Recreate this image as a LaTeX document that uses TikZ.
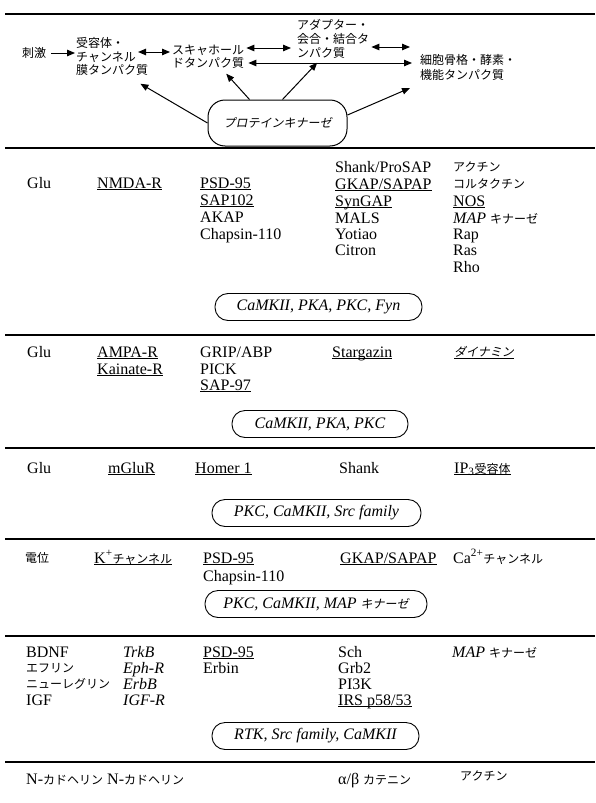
\documentclass[tikz,border=0pt]{standalone}
\usepackage{fontspec}
\setmainfont{Liberation Serif}
\newfontfamily\jpf{Noto Sans CJK JP}
\newfontfamily\jpslf[FakeSlant=0.2]{Noto Sans CJK JP}
\usetikzlibrary{arrows.meta}
\newcommand\latf{\fontsize{16}{17}\selectfont}
\newcommand\J[1]{{\jpf\fontsize{12}{13}\selectfont #1}}
\newcommand\JS[1]{{\jpslf\fontsize{12}{13}\selectfont #1}}
\newcommand\ul[1]{\underline{\smash{#1}}}
\tikzset{
  tx/.style={anchor=base west, inner sep=0pt, font=\latf},
  jt/.style={anchor=west, inner sep=0pt, font={\jpf\fontsize{12}{13}\selectfont}},
  kbox/.style={draw, line width=0.9pt, rounded corners=13pt, minimum height=27pt, inner sep=0pt, font=\latf\itshape},
  kbig/.style={draw, line width=1pt, rounded corners=17pt, minimum width=139pt, minimum height=46pt, inner sep=0pt},
  rulel/.style={line width=1.2pt},
  arr/.style={-{Triangle[length=8pt,width=6.5pt]}, line width=1pt},
  darr/.style={{Triangle[length=8pt,width=6.5pt]}-{Triangle[length=8pt,width=6.5pt]}, line width=1pt},
}
\begin{document}
\begin{tikzpicture}[x=1pt,y=-1pt]
\useasboundingbox (0,0) rectangle (595,803);
% horizontal rules
\draw[line width=1.6pt] (5,14) -- (595,14);
\draw[line width=1.4pt] (5,148) -- (595,148);
\draw[rulel] (5,335) -- (595,335);
\draw[rulel] (5,448) -- (595,448);
\draw[rulel] (5,539) -- (595,539);
\draw[rulel] (5,636) -- (595,636);
\draw[rulel] (5,762) -- (595,762);

% ---------- header ----------
\node[jt] (stim) at (22,53) {刺激};
\node[jt] (A1) at (76,43) {受容体・};
\node[jt] (A2) at (76,57) {チャンネル};
\node[jt] (A3) at (76,70) {膜タンパク質};
\node[jt] (B1) at (172,50) {スキャホール};
\node[jt] (B2) at (172,63) {ドタンパク質};
\node[jt] (C1) at (297,25) {アダプター・};
\node[jt] (C2) at (297,39) {会合・結合タ};
\node[jt] (C3) at (297,53) {ンパク質};
\node[jt] (D1) at (420,60) {細胞骨格・酵素・};
\node[jt] (D2) at (420,75) {機能タンパク質};
\node[kbig] (K) at (277.5,123) {\JS{プロテインキナーゼ}};

\coordinate (yab) at (0,52);
\coordinate (ybc) at (0,48);
\coordinate (ycd) at (0,47);
\coordinate (ybd) at (0,63);
\draw[arr, shorten >=1pt] ([xshift=5pt]stim.east) -- (A2.west |- stim.east);
\draw[darr] ([xshift=2pt]A2.east |- yab) -- ([xshift=-2pt]B1.west |- yab);
\draw[darr] ([xshift=2pt]B1.east |- ybc) -- ([xshift=-6pt]C2.west |- ybc);
\draw[darr] ([xshift=2pt]C2.east |- ycd) -- ([xshift=-10pt]D1.west |- ycd);
\draw[darr] ([xshift=4pt]B2.east |- ybd) -- ([xshift=-8pt]D1.west |- ybd);
\draw[arr] (K.west) -- ([xshift=-8pt,yshift=-8pt]A3.south east);
\draw[arr] ([xshift=-28pt]K.north) -- ([xshift=18pt,yshift=-5pt]B2.south);
\draw[arr] ([xshift=5pt]K.north) -- ([xshift=-4pt,yshift=-4pt]C3.south);
\draw[arr] ([yshift=8pt]K.east) -- ([xshift=-10pt,yshift=-13pt]D2.west);

% ---------- section 1 ----------
\node[tx] (g1) at (27,188) {Glu};
\node[tx] (r1) at (97,188) {\ul{NMDA-R}};
\node[tx] (p1a) at (200,188) {\ul{PSD-95}};
\node[tx] (p1b) at (200,205) {\ul{SAP102}};
\node[tx] (p1c) at (200,222) {AKAP};
\node[tx] (p1d) at (200,239) {Chapsin-110};
\node[tx] (q1a) at (335,172) {Shank/ProSAP};
\node[tx] (q1b) at (335,189) {\ul{GKAP/SAPAP}};
\node[tx] (q1c) at (335,206) {\ul{SynGAP}};
\node[tx] (q1d) at (335,223) {MALS};
\node[tx] (q1e) at (335,239) {Yotiao};
\node[tx] (q1f) at (335,255) {Citron};
\node[tx] (e1a) at (453,171.5) {\J{アクチン}};
\node[tx] (e1b) at (453,188.5) {\J{コルタクチン}};
\node[tx] (e1c) at (453,206) {\ul{NOS}};
\node[tx] (e1d) at (453,223) {\textit{MAP} \J{キナーゼ}};
\node[tx] (e1e) at (453,239) {Rap};
\node[tx] (e1f) at (453,255) {Ras};
\node[tx] (e1g) at (453,272) {Rho};
\node[kbox, minimum width=207pt] (k1) at (318.5,307) {CaMKII, PKA, PKC, Fyn};

% ---------- section 2 ----------
\node[tx] (g2) at (27,357) {Glu};
\node[tx] (r2a) at (97,357) {\ul{AMPA-R}};
\node[tx] (r2b) at (97,374) {\ul{Kainate-R}};
\node[tx] (p2a) at (200,357) {GRIP/ABP};
\node[tx] (p2b) at (200,374) {PICK};
\node[tx] (p2c) at (200,390) {\ul{SAP-97}};
\node[tx] (q2a) at (332,357) {\ul{Stargazin}};
\node[tx] (e2a) at (454,356.5) {\ul{\JS{ダイナミン}}};
\node[kbox, minimum width=176pt] (k2) at (320,424) {CaMKII, PKA, PKC};

% ---------- section 3 ----------
\node[tx] (g3) at (27,473) {Glu};
\node[tx] (r3) at (108,473) {\ul{mGluR}};
\node[tx] (p3) at (195,473) {\ul{Homer 1}};
\node[tx] (q3) at (339,473) {Shank};
\node[tx] (e3) at (454,473) {\ul{IP\textsubscript{3}\J{受容体}}};
\node[kbox, minimum width=209pt] (k3) at (316.5,513) {PKC, CaMKII, Src family};

% ---------- section 4 ----------
\node[tx] (g4) at (25,562.5) {\J{電位}};
\node[tx] (r4) at (94,563) {\ul{K\textsuperscript{+}\J{チャンネル}}};
\node[tx] (p4a) at (203,563) {\ul{PSD-95}};
\node[tx] (p4b) at (203,581) {Chapsin-110};
\node[tx] (q4) at (340,563) {\ul{GKAP/SAPAP}};
\node[tx] (e4) at (453,563) {Ca\textsuperscript{2+}\J{チャンネル}};
\node[kbox, minimum width=222pt] (k4) at (316,604) {PKC, CaMKII, MAP \JS{キナーゼ}};

% ---------- section 5 ----------
\node[tx] (g5a) at (26,657) {BDNF};
\node[tx] (g5b) at (26,672.5) {\J{エフリン}};
\node[tx] (g5c) at (26,688.5) {\J{ニューレグリン}};
\node[tx] (g5d) at (26,705) {IGF};
\node[tx] (r5a) at (123,657) {\textit{TrkB}};
\node[tx] (r5b) at (123,673) {\textit{Eph-R}};
\node[tx] (r5c) at (123,689) {\textit{ErbB}};
\node[tx] (r5d) at (123,705) {\textit{IGF-R}};
\node[tx] (p5a) at (203,657) {\ul{PSD-95}};
\node[tx] (p5b) at (203,673) {Erbin};
\node[tx] (q5a) at (338,657) {Sch};
\node[tx] (q5b) at (338,673) {Grb2};
\node[tx] (q5c) at (338,689) {PI3K};
\node[tx] (q5d) at (338,705) {\ul{IRS p58/53}};
\node[tx] (e5) at (452,657) {\textit{MAP} \J{キナーゼ}};
\node[kbox, minimum width=207pt] (k5) at (315.5,736) {RTK, Src family, CaMKII};

% ---------- section 6 ----------
\node[tx] (g6) at (26,784) {N-\J{カドヘリン}};
\node[tx] (r6) at (107,784) {N-\J{カドヘリン}};
\node[tx] (q6) at (338,784) {α/β \J{カテニン}};
\node[tx] (e6) at (460,780) {\J{アクチン}};
\end{tikzpicture}
\end{document}
